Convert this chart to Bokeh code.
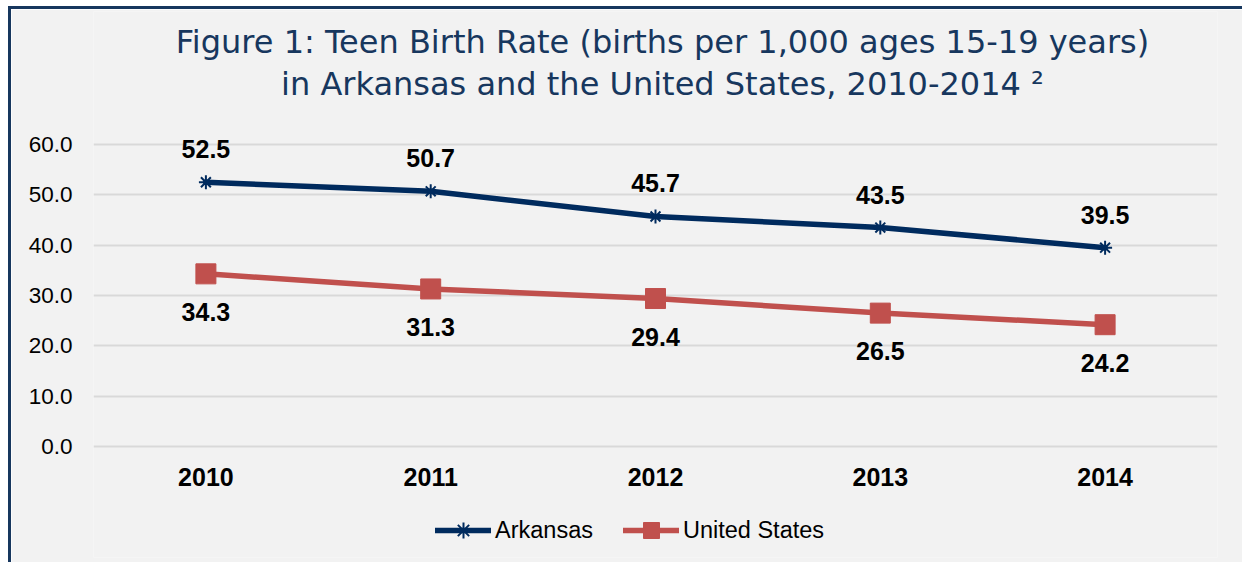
from bokeh.plotting import figure
from bokeh.layouts import column
from bokeh.models import (Range1d, FactorRange, FixedTicker, PrintfTickFormatter,
                          Legend, LegendItem, Label, ColumnDataSource)
from bokeh.core.properties import value
from bokeh.embed import file_html
from bokeh.resources import INLINE

# ---- data ----
years = ["2010", "2011", "2012", "2013", "2014"]
arkansas = [52.5, 50.7, 45.7, 43.5, 39.5]
united_states = [34.3, 31.3, 29.4, 26.5, 24.2]
y_ticks = [0, 10, 20, 30, 40, 50, 60]
title_line1 = "Figure 1: Teen Birth Rate (births per 1,000 ages 15-19 years)"
title_line2 = "in Arkansas and the United States, 2010-2014 \u00b2"

NAVY = "#002B5E"
RED = "#C0504D"
TITLE_C = "#17375E"
BG = "#F2F2F2"
LAB_FONT = "Liberation Sans"

src = ColumnDataSource(dict(
    x=years, ar=arkansas, us=united_states, base=[0] * len(years),
    ar_t=[f"{v:.1f}" for v in arkansas],
    us_t=[f"{v:.1f}" for v in united_states],
))

p = figure(width=1231, height=553, output_backend="svg", toolbar_location=None,
           x_range=FactorRange(*years, range_padding=0), y_range=Range1d(-22.05, 86.42),
           x_axis_location=None,
           title=None, min_border_left=82, min_border_right=25,
           min_border_top=2, min_border_bottom=5)
p.background_fill_color = BG
p.border_fill_color = BG
p.outline_line_color = None

# title lines (screen units relative to the plot frame)
for txt, yy in ((title_line1, 516), (title_line2, 474)):
    p.add_layout(Label(x=569, y=yy, x_units="screen", y_units="screen", text=txt,
                       text_font="DejaVu Sans", text_font_size="32px",
                       text_color=TITLE_C, text_align="center", text_baseline="middle"))

# axes
p.xgrid.grid_line_color = None
p.ygrid.grid_line_color = "#D9D9D9"
p.ygrid.grid_line_width = 2
p.yaxis.ticker = FixedTicker(ticks=y_ticks)
p.ygrid.ticker = FixedTicker(ticks=y_ticks)
p.yaxis.formatter = PrintfTickFormatter(format="%.1f")
p.yaxis.axis_line_color = None
p.yaxis.major_tick_line_color = None
p.yaxis.major_tick_out = 0
p.yaxis.minor_tick_line_color = None
p.yaxis.minor_tick_out = 0
p.yaxis.major_label_text_font = LAB_FONT
p.yaxis.major_label_text_color = "#000000"
p.yaxis.major_label_text_font_size = "22.5px"
p.yaxis.major_label_standoff = 21

# category labels (x axis)
p.text("x", "base", text="x", source=src, text_font=value(LAB_FONT),
       text_font_size="25px", text_font_style="bold", text_color="#000000",
       text_align="center", text_baseline="middle", y_offset=30)

# series
l_ar = p.line("x", "ar", source=src, line_color=NAVY, line_width=5.5,
              line_cap="round", line_join="round")
m_ar = p.scatter("x", "ar", source=src, marker="asterisk", size=14,
                 line_color=NAVY, line_width=2)
l_us = p.line("x", "us", source=src, line_color=RED, line_width=5.5,
              line_cap="round", line_join="round")
m_us = p.scatter("x", "us", source=src, marker="square", size=20,
                 fill_color=RED, line_color=RED)

# data labels
p.text("x", "ar", text="ar_t", source=src, text_font=value(LAB_FONT),
       text_font_size="25px", text_font_style="bold", text_color="#000000",
       text_align="center", text_baseline="middle", y_offset=-33)
p.text("x", "us", text="us_t", source=src, text_font=value(LAB_FONT),
       text_font_size="25px", text_font_style="bold", text_color="#000000",
       text_align="center", text_baseline="middle", y_offset=38)

legend = Legend(items=[LegendItem(label="Arkansas", renderers=[l_ar, m_ar]),
                       LegendItem(label="United States", renderers=[l_us, m_us])],
                orientation="horizontal", location=(342, 7),
                glyph_width=56, glyph_height=40, label_standoff=4, spacing=30,
                padding=0, margin=0, border_line_color=None,
                background_fill_alpha=0,
                label_text_font=LAB_FONT, label_text_font_size="23.5px",
                label_text_color="#000000")
p.add_layout(legend, "center")

layout = column(p, styles={"border-left": f"3px solid {TITLE_C}",
                           "border-top": f"3px solid {TITLE_C}",
                           "margin-left": "8px", "margin-top": "6px"})
open("out.html", "w").write(file_html(layout, INLINE))
